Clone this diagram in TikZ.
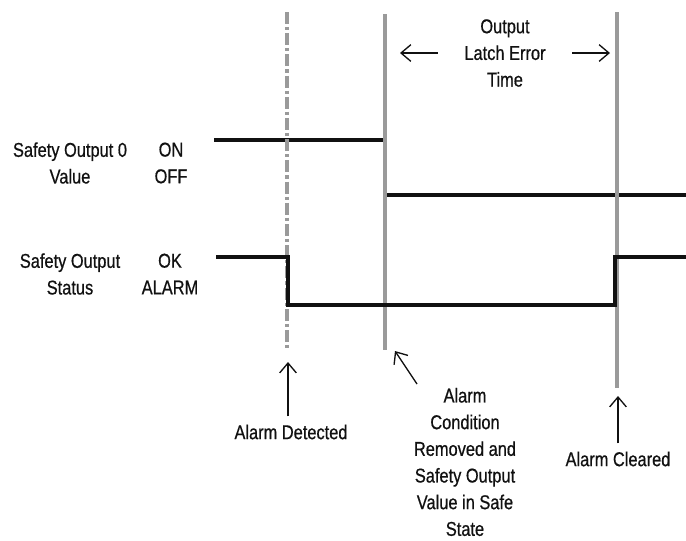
\documentclass[tikz,border=0pt]{standalone}
\usepackage{fontspec}
\setmainfont{Liberation Sans}[FakeStretch=0.82, FakeBold=0.6]
\usetikzlibrary{arrows.meta,positioning}
\definecolor{ink}{HTML}{111111}
\definecolor{rule}{HTML}{9A9A9A}

\begin{document}
\begin{tikzpicture}[x=0.75pt, y=-0.75pt,
  font=\fontsize{15}{20}\selectfont, text=ink, >={Straight Barb[length=2.6mm, width=4.4mm, line width=1pt]},
  lab/.style={align=center, inner sep=0pt},
  sig/.style={draw=ink, line width=2.4pt},
  tline/.style={draw=rule, line width=2.4pt},
  dd/.style={tline, dash pattern=on 9pt off 2.2pt on 2.5pt off 2.2pt},
  pointer/.style={->, draw=ink, line width=1pt}
]
\useasboundingbox (0,0) rectangle (686,540);

% ---- row labels
\node[lab] (val)  at (70,163) {Safety Output 0\\Value};
\node[lab] (onoff) at (171,163) {ON\\OFF};
\node[lab] (stat) at (70,274) {Safety Output\\Status};
\node[lab] (okal) at (170,274) {OK\\ALARM};

% ---- event lines
\coordinate (detTop) at (287,12);
\coordinate (detBot) at (287,350);
\coordinate (remTop) at (385,14);
\coordinate (remBot) at (385,350);
\coordinate (clrTop) at (617,12);
\coordinate (clrBot) at (617,388);

% ---- signals
\draw[sig] (214,140) -- (385,140) -- (385,195) -- (686,195);
\draw[dd] (detTop) -- (detBot);
\draw[tline] (remTop) -- (remBot);
\draw[tline] (clrTop) -- (clrBot);
\draw[sig] (216,257) -- (288,257) -- (288,305) -- (615,305) -- (615,257) -- (686,257);

% ---- latch time
\node[lab] (latch) at (505,53) {Output\\Latch Error\\Time};
\coordinate (latchL) at (400,53);
\coordinate (latchR) at (610,53);
\draw[pointer] ([xshift=-20pt]latch.west) -- (latchL);
\draw[pointer] ([xshift=20pt]latch.east) -- (latchR);

% ---- events
\node[lab] (det) at (291,432) {Alarm Detected};
\node[lab] (rem) at (465,462) {Alarm\\Condition\\Removed and\\Safety Output\\Value in Safe\\State};
\node[lab] (clr) at (618,459) {Alarm Cleared};
\coordinate (detTip) at (288,362);
\coordinate (remTail) at (417,384);
\coordinate (remTip) at (395,351);
\coordinate (clrTip) at (618,396);
\draw[pointer] ([yshift=6pt]det.north -| detTip) -- (detTip);
\draw[pointer] (remTail) -- (remTip);
\draw[pointer] ([yshift=6pt]clr.north -| clrTip) -- (clrTip);
\end{tikzpicture}
\end{document}
